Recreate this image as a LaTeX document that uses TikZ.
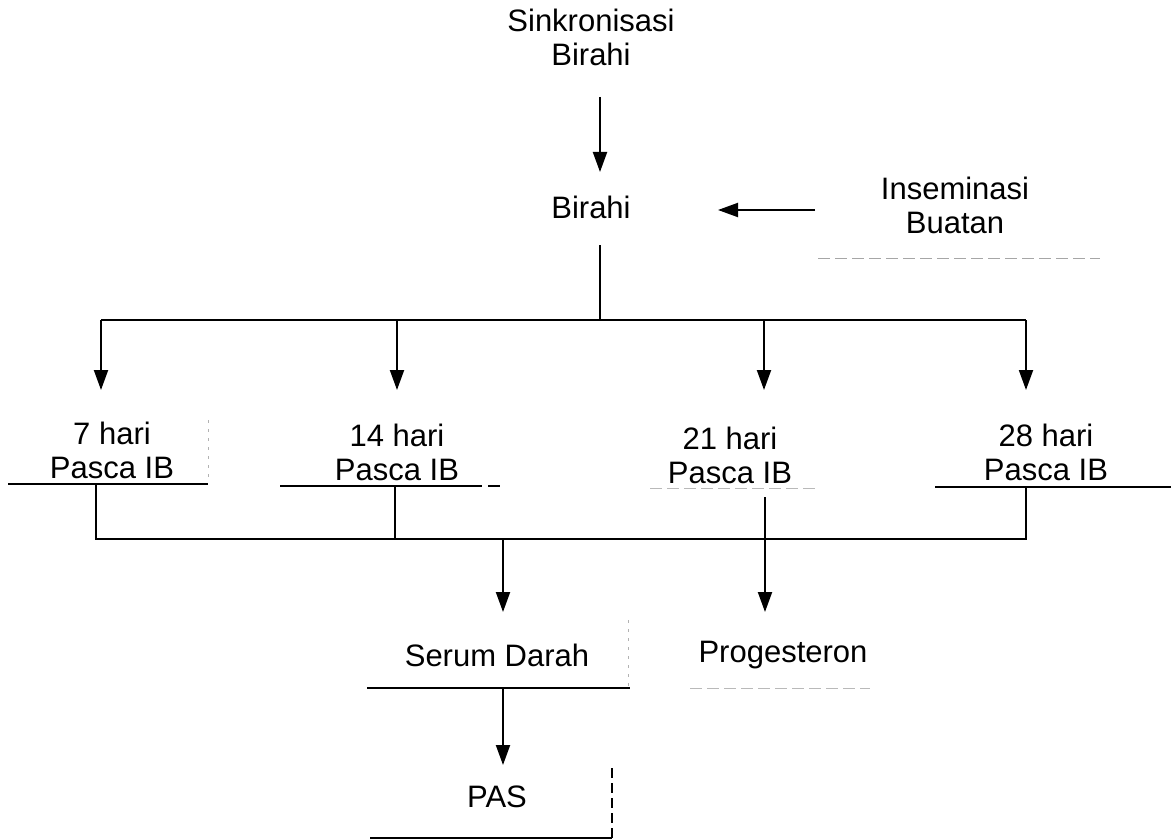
\documentclass[tikz,border=0pt]{standalone}
\usepackage{fontspec}
\setmainfont{Liberation Sans}
\usetikzlibrary{arrows.meta}
\begin{document}
\begin{tikzpicture}[x=1pt,y=-1pt,
  lbl/.style={font=\fontsize{31}{34}\selectfont, align=center, inner sep=0pt},
  conn/.style={line width=2pt, draw=black},
  arr/.style={conn, -{Triangle[length=20pt,width=14pt]}},
  edgesolid/.style={line width=2pt, draw=black},
  edgefaint/.style={line width=1pt, draw=gray!55, dash pattern=on 12pt off 5pt},
  edgedot/.style={line width=1pt, draw=gray!60, dash pattern=on 3pt off 6pt},
]
\useasboundingbox[fill=white] (0,0) rectangle (1171,840);

% text nodes
\node[lbl] (sink)   at (591,37)  {Sinkronisasi\\Birahi};
\node[lbl] (birahi) at (591,207) {Birahi};
\node[lbl] (ib)     at (955,205) {Inseminasi\\Buatan};
\node[lbl] (h7)     at (112,450) {7 hari\\Pasca IB};
\node[lbl] (h14)    at (397,452) {14 hari\\Pasca IB};
\node[lbl] (h21)    at (730,455) {21 hari\\Pasca IB};
\node[lbl] (h28)    at (1046,452){28 hari\\Pasca IB};
\node[lbl] (serum)  at (497,655) {Serum Darah};
\node[lbl] (prog)   at (783,655) {Progesteron};
\node[lbl] (pas)    at (497,797) {PAS};

% connector points
\coordinate (sinkout) at (600,97);
\coordinate (birin)   at (600,172);
\coordinate (ibout)   at (815,210);
\coordinate (ibin)    at (718,210);
\coordinate (birout)  at (600,245);
\coordinate (split)   at (600,320);
\coordinate (sl)      at (101,320);
\coordinate (s14)     at (397,320);
\coordinate (s21)     at (764,320);
\coordinate (sr)      at (1026,320);
\coordinate (in7)     at (101,390);
\coordinate (in14)    at (397,390);
\coordinate (in21)    at (764,390);
\coordinate (in28)    at (1026,390);
\coordinate (o7)      at (96,484);
\coordinate (o14)     at (395,486);
\coordinate (o21)     at (765,497);
\coordinate (o28)     at (1026,487);
\coordinate (j7)      at (96,539);
\coordinate (j14)     at (395,539);
\coordinate (jser)    at (503,539);
\coordinate (j28)     at (1026,539);
\coordinate (inser)   at (503,612);
\coordinate (inprog)  at (765,612);
\coordinate (oser)    at (503,688);
\coordinate (inpas)   at (503,765);

% connectors
\draw[arr] (sinkout) -- (birin);
\draw[arr] (ibout) -- (ibin);
\draw[conn] (birout) -- (split);
\draw[conn] (sl) -- (sr);
\draw[arr] (sl) -- (in7);
\draw[arr] (s14) -- (in14);
\draw[arr] (s21) -- (in21);
\draw[arr] (sr) -- (in28);
\draw[conn] (o7) -- (j7) -- (j28) -- (o28);
\draw[conn] (o14) -- (j14);
\draw[arr] (jser) -- (inser);
\draw[arr] (o21) -- (inprog);
\draw[arr] (oser) -- (inpas);

% remaining visible box edges
\draw[edgefaint, draw=gray!70] (818,258) -- (1100,258);
\draw[edgesolid] (8,484) -- (208,484);
\draw[edgedot] (208,420) -- (208,478);
\draw[edgesolid] (280,486) -- (470,486);
\draw[edgesolid, dash pattern=on 12pt off 6pt] (470,486) -- (505,486);
\draw[edgefaint] (650,488) -- (815,488);
\draw[edgesolid] (935,487) -- (1171,487);
\draw[edgesolid] (367,688) -- (630,688);
\draw[edgedot] (628,620) -- (628,686);
\draw[edgefaint] (690,688) -- (870,688);
\draw[edgesolid] (370,838) -- (612,838);
\draw[line width=1.5pt, dash pattern=on 10pt off 5pt] (612,768) -- (612,838);
\end{tikzpicture}
\end{document}
